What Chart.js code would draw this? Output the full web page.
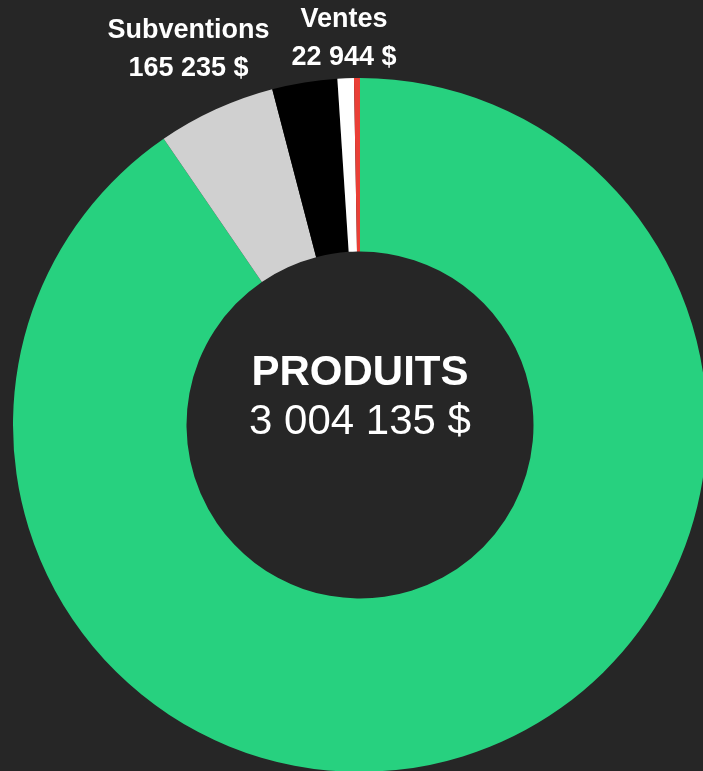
<!DOCTYPE html>
<html>
<head>
<meta charset="utf-8">
<script src="https://cdn.jsdelivr.net/npm/chart.js@4/dist/chart.umd.min.js"></script>
<style>
  html, body { margin: 0; padding: 0; background: #262626; overflow: hidden; }
  #wrap { width: 707px; height: 772px; position: relative; }
</style>
</head>
<body>
<div id="wrap"><canvas id="produits-chart"></canvas></div>
<script>
// Produits data (clockwise from the top)
const categories = ['Cotisations', 'Subventions', 'Dons', 'Ventes', 'Autres'];
const amounts = [2716656, 165235, 91000, 22944, 8300];
const sliceColors = ['#27d17f', '#d0d0d0', '#000000', '#ffffff', '#ea3f36'];
const labelledCategories = ['Subventions', 'Ventes'];
const centerTitle = 'PRODUITS';

// 3004135 -> "3 004 135 $"
function formatDollars(v) {
    return String(Math.round(v)).replace(/\B(?=(\d{3})+(?!\d))/g, ' ') + ' $';
}

const total = amounts.reduce((a, b) => a + b, 0);

// Draws the title + total in the hole and the outside labels
const textPlugin = {
    id: 'produitsText',
    afterDatasetsDraw(chart) {
        const ctx = chart.ctx;
        const meta = chart.getDatasetMeta(0);
        const arc0 = meta.data[0];
        const cx = arc0.x, cy = arc0.y;

        ctx.save();
        ctx.fillStyle = '#ffffff';
        ctx.textAlign = 'center';
        ctx.textBaseline = 'middle';

        ctx.font = 'bold 42px "Liberation Sans", Arial, sans-serif';
        ctx.fillText(centerTitle, cx, cy - 52);
        ctx.font = '42px "Liberation Sans", Arial, sans-serif';
        ctx.fillText(formatDollars(total), cx, cy - 3);

        ctx.font = 'bold 27px "Liberation Sans", Arial, sans-serif';
        meta.data.forEach((arc, i) => {
            if (!labelledCategories.includes(categories[i])) return;
            const mid = (arc.startAngle + arc.endAngle) / 2;
            const dist = arc.outerRadius + 37 + 69 * Math.abs(Math.cos(mid));
            const x = cx + Math.cos(mid) * dist;
            const y = cy + Math.sin(mid) * dist;
            ctx.fillText(categories[i], x, y - 19);
            ctx.fillText(formatDollars(amounts[i]), x, y + 19);
        });
        ctx.restore();
    }
};

const produitsConfig = {
    type: 'doughnut',
    data: {
        labels: categories,
        datasets: [{
            data: amounts,
            backgroundColor: sliceColors,
            borderWidth: 0
        }]
    },
    options: {
        responsive: true,
        maintainAspectRatio: false,
        animation: false,
        cutout: '50%',
        layout: {
            padding: { top: 78, left: 13, right: 0, bottom: 0 }
        },
        plugins: {
            legend: { display: false },
            tooltip: { enabled: false }
        }
    },
    plugins: [textPlugin]
};

const produitsChart = new Chart(document.getElementById('produits-chart'), produitsConfig);
</script>
</body>
</html>
